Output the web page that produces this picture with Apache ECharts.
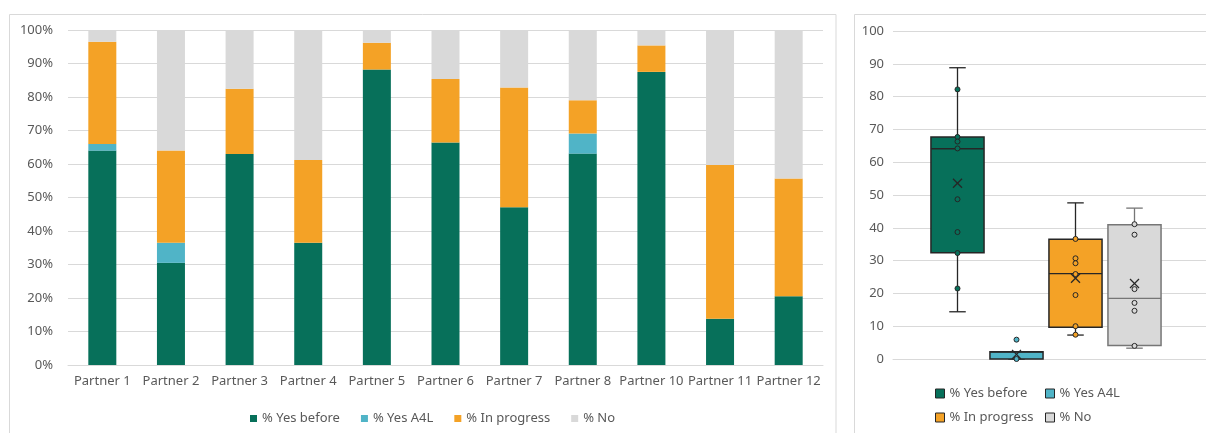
<!DOCTYPE html>
<html>
<head>
<meta charset="utf-8">
<script src="https://cdn.jsdelivr.net/npm/echarts@6.0.0/dist/echarts.min.js"></script>
<style>
  html, body { margin: 0; padding: 0; background: #fff; }
  #chart { width: 1206px; height: 433px; }
</style>
</head>
<body>
<div id="chart"></div>
<script>
// stacked bars (percent of answers per partner)
const partners = ['Partner 1', 'Partner 2', 'Partner 3', 'Partner 4', 'Partner 5', 'Partner 6',
  'Partner 7', 'Partner 8', 'Partner 10', 'Partner 11', 'Partner 12'];
const yesBefore = [64, 30.5, 63, 36.5, 88.2, 66.4, 47.1, 63.1, 87.5, 13.8, 20.5];
const yesA4L = [2, 6, 0, 0, 0, 0, 0, 6, 0, 0, 0];
const inProgress = [30.5, 27.5, 19.5, 24.7, 8, 19, 35.7, 9.9, 7.9, 45.9, 35.2];
const noAnswer = [3.5, 36, 17.5, 38.8, 3.8, 14.6, 17.2, 21, 4.6, 40.3, 44.3];

// box plot: [min, Q1, median, Q3, max], mean, inner points
const boxNames = ['% Yes before', '% Yes A4L', '% In progress', '% No'];
const statsYesBefore = [14.4, 32.4, 64.1, 67.7, 88.8];
const statsYesA4L = [0, 0, 2.1, 2.2, 2.2];
const statsInProgress = [7.3, 9.7, 26.0, 36.5, 47.6];
const statsNo = [3.3, 4.1, 18.5, 40.9, 46.0];
const means = [53.6, 1.4, 24.6, 23.0];
const ptsYesBefore = [82.2, 67.7, 66.3, 64.2, 48.7, 38.7, 32.3, 21.5];
const ptsYesA4L = [5.9, 0];
const ptsInProgress = [36.6, 30.7, 29.2, 25.9, 19.5, 10.0, 7.4];
const ptsNo = [41.1, 37.9, 21.3, 17.1, 14.7, 4.0];

const colors = ['#07705a', '#50b4c7', '#f4a226', '#d9d9d9'];
const strokes = ['#262626', '#262626', '#262626', '#767676'];
const txt = '#595959';
const font = 'Noto Sans';

const chart = echarts.init(document.getElementById('chart'));

function boxRenderer(fill, stroke) {
  return function (params, api) {
    const i = api.value(0);
    const lo = api.coord([i, api.value(1)]);
    const q1 = api.coord([i, api.value(2)]);
    const med = api.coord([i, api.value(3)]);
    const q3 = api.coord([i, api.value(4)]);
    const hi = api.coord([i, api.value(5)]);
    const mean = api.coord([i, api.value(6)]);
    const band = api.size([1, 0])[0];
    const half = band * 0.45, cap = band * 0.14, m = 4.5;
    const x = hi[0];
    const ln = (x1, y1, x2, y2, c) => ({
      type: 'line', shape: { x1, y1, x2, y2 },
      style: { stroke: c || stroke, lineWidth: 1.3 }
    });
    return {
      type: 'group',
      children: [
        ln(x, hi[1], x, q3[1]), ln(x - cap, hi[1], x + cap, hi[1]),
        ln(x, q1[1], x, lo[1]), ln(x - cap, lo[1], x + cap, lo[1]),
        { type: 'rect', shape: { x: x - half, y: q3[1], width: half * 2, height: q1[1] - q3[1] },
          style: { fill: fill, stroke: stroke, lineWidth: 1.5 } },
        ln(x - half, med[1], x + half, med[1]),
        ln(mean[0] - m, mean[1] - m, mean[0] + m, mean[1] + m, '#262626'),
        ln(mean[0] - m, mean[1] + m, mean[0] + m, mean[1] - m, '#262626')
      ]
    };
  };
}

const barNames = ['% Yes before', '% Yes A4L', '% In progress', '% No'];
const barData = [yesBefore, yesA4L, inProgress, noAnswer];
const stats = [statsYesBefore, statsYesA4L, statsInProgress, statsNo];
const points = [ptsYesBefore, ptsYesA4L, ptsInProgress, ptsNo];

const series = [];
barData.forEach((d, k) => {
  series.push({
    name: barNames[k], type: 'bar', stack: 'total', barWidth: 28,
    xAxisIndex: 0, yAxisIndex: 0,
    itemStyle: { color: colors[k] },
    data: d
  });
});
stats.forEach((s, k) => {
  series.push({
    name: boxNames[k], type: 'custom', xAxisIndex: 2, yAxisIndex: 2,
    itemStyle: { color: colors[k] },
    renderItem: boxRenderer(colors[k], strokes[k]),
    encode: { x: 0, y: [1, 2, 3, 4, 5, 6] },
    data: [[k].concat(s, [means[k]])],
    z: 2
  });
  series.push({
    name: boxNames[k] + ' points', type: 'scatter', xAxisIndex: 2, yAxisIndex: 2,
    symbolSize: 5,
    itemStyle: { color: colors[k], borderColor: '#262626', borderWidth: 1, opacity: 1 },
    data: points[k].map(v => [k, v]),
    z: 3
  });
});

const rightLegend = (k, left, top) => ({
  left: left, top: top, icon: 'rect', itemWidth: 9, itemHeight: 9, selectedMode: false,
  textStyle: { color: txt, fontFamily: font, fontSize: 13 },
  data: [{ name: boxNames[k], itemStyle: { color: colors[k], borderColor: '#262626', borderWidth: 1 } }]
});

chart.setOption({
  animation: false,
  textStyle: { fontFamily: font },
  graphic: [
    { type: 'rect', shape: { x: 9.5, y: 14.5, width: 826.5, height: 440 },
      style: { fill: 'none', stroke: '#d9d9d9', lineWidth: 1 }, silent: true },
    { type: 'rect', shape: { x: 854.5, y: 14.5, width: 360, height: 440 },
      style: { fill: 'none', stroke: '#d9d9d9', lineWidth: 1 }, silent: true }
  ],
  grid: [
    { left: 68, right: 383, top: 30, bottom: 68 },
    { left: 893, right: 0, top: 31, bottom: 74 },
    { left: 928, width: 236, top: 31, bottom: 74 }
  ],
  legend: [
    {
      left: 245, top: 407, icon: 'rect', itemWidth: 7, itemHeight: 7, itemGap: 21,
      selectedMode: false,
      textStyle: { color: txt, fontFamily: font, fontSize: 13 },
      data: barNames
    },
    rightLegend(0, 930, 382),
    rightLegend(1, 1040, 382),
    rightLegend(2, 930, 406),
    rightLegend(3, 1040, 406)
  ],
  xAxis: [
    {
      type: 'category', gridIndex: 0, data: partners,
      axisLine: { lineStyle: { color: '#d9d9d9' } },
      axisTick: { show: false },
      axisLabel: { color: txt, fontSize: 13, fontFamily: font, interval: 0, margin: 10 }
    },
    {
      type: 'category', gridIndex: 1, data: [''],
      axisLine: { lineStyle: { color: '#d9d9d9' } },
      axisTick: { show: false }, axisLabel: { show: false }
    },
    {
      type: 'category', gridIndex: 2, data: boxNames,
      axisLine: { show: false }, axisTick: { show: false }, axisLabel: { show: false }
    }
  ],
  yAxis: [
    {
      type: 'value', gridIndex: 0, min: 0, max: 100, interval: 10,
      axisLabel: { color: txt, fontSize: 13, fontFamily: font, margin: 15, formatter: '{value}%' },
      splitLine: { lineStyle: { color: '#d9d9d9' } }
    },
    {
      type: 'value', gridIndex: 1, min: 0, max: 100, interval: 10,
      axisLabel: { color: txt, fontSize: 13, fontFamily: font, margin: 9 },
      splitLine: { lineStyle: { color: '#d9d9d9' } }
    },
    {
      type: 'value', gridIndex: 2, min: 0, max: 100, interval: 10,
      axisLabel: { show: false }, splitLine: { show: false },
      axisLine: { show: false }, axisTick: { show: false }
    }
  ],
  series: series
});
</script>
</body>
</html>
